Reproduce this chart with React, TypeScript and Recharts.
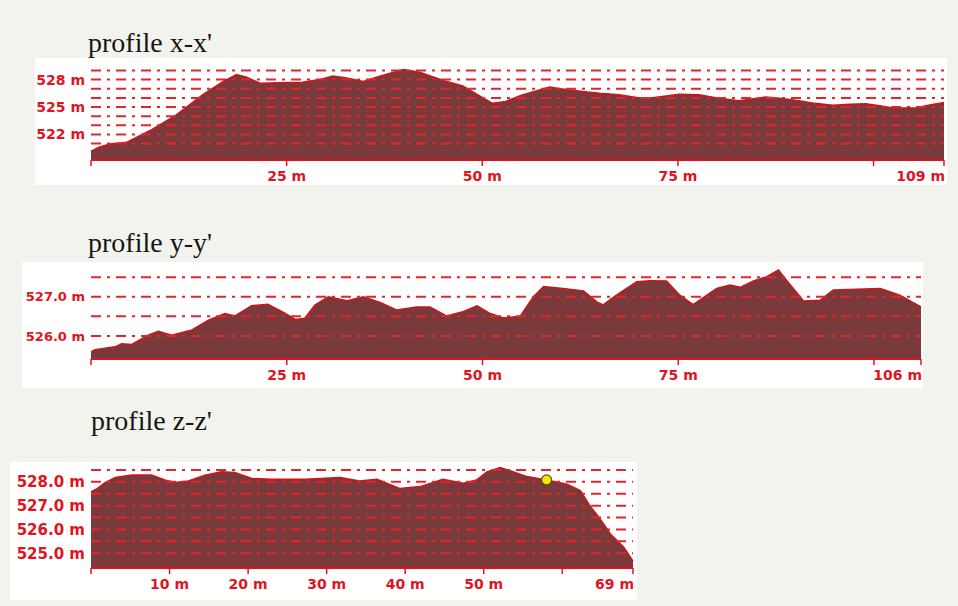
import { AreaChart, Area, XAxis, YAxis, ReferenceLine, ReferenceDot } from 'recharts'

const RED = '#e0141e'
const GRID = '#e3262c'
const FILL = '#7a3a3b'
const EDGE = '#d0141a'
const FONT = '"DejaVu Sans", Verdana, sans-serif'

// profile x-x'
const xxDist = [0, 1, 2.4, 4.6, 7.5, 10.9, 14.3, 16.9, 18.6, 19.9, 21.6, 24, 27, 29.2, 30.9, 32.5, 34.8, 37, 39.9, 42, 45, 47.5, 49.5, 51.3, 53, 55, 58.6, 60, 62.8, 65, 67.5, 70.1, 72, 75.2, 77.7, 80, 82.8, 86.2, 88, 90.5, 92.5, 94.8, 97, 99, 101, 102.4, 105.4, 107, 109]
const xxElev = [520.15, 520.6, 520.95, 521.15, 522.4, 524.15, 526.35, 527.8, 528.55, 528.25, 527.6, 527.65, 527.7, 528.0, 528.4, 528.2, 527.8, 528.4, 529.1, 528.8, 527.9, 527.3, 526.3, 525.4, 525.6, 526.3, 527.2, 527.0, 526.7, 526.5, 526.35, 526.0, 526.05, 526.4, 526.35, 526.0, 525.7, 526.1, 525.95, 525.7, 525.4, 525.2, 525.3, 525.35, 525.1, 524.9, 524.9, 525.2, 525.5]
const xxTicks = [0, 25, 50, 75, 100, 109]
const xxHidden = [0, 100]
const xxYTicks = [522, 525, 528]
const xxGrid = [521, 522, 523, 524, 525, 526, 527, 528, 529]

// profile y-y'
const yyDist = [0, 0.5, 3.1, 3.9, 5.2, 7.3, 8.6, 10.3, 12.9, 15.0, 17.1, 18.4, 20.5, 22.6, 24.4, 26.1, 27.3, 28.6, 30.3, 32.7, 34.8, 37, 39.0, 41.6, 43.3, 45.4, 47.5, 49.3, 51.0, 52.7, 54.8, 56.5, 57.8, 60.3, 62.9, 64.6, 65.4, 67.1, 69.7, 71.4, 73.5, 75.2, 76.9, 79.9, 81.6, 82.9, 84.6, 86.3, 87.8, 88.8, 91.0, 93.1, 94.8, 97.8, 100.8, 103.3, 106]
const yyElev = [525.59, 525.65, 525.72, 525.8, 525.78, 526.02, 526.12, 526.02, 526.15, 526.4, 526.57, 526.51, 526.77, 526.81, 526.62, 526.42, 526.45, 526.79, 527.0, 526.9, 527.0, 526.85, 526.66, 526.74, 526.74, 526.51, 526.62, 526.77, 526.57, 526.46, 526.5, 527.0, 527.26, 527.21, 527.15, 526.87, 526.79, 527.04, 527.38, 527.41, 527.4, 527.04, 526.8, 527.21, 527.3, 527.24, 527.4, 527.51, 527.68, 527.43, 526.89, 526.91, 527.17, 527.19, 527.21, 527.04, 526.74]
const yyTicks = [0, 25, 50, 75, 100, 106]
const yyHidden = [0, 100]
const yyYTicks = [526, 527]
const yyGrid = [526, 526.5, 527, 527.5]

// profile z-z'
const zzDist = [0, 0.7, 1.8, 3.1, 5.2, 7.7, 9.4, 10.7, 12.4, 14.5, 16.6, 18.3, 20.5, 23.0, 27.2, 29.2, 31.7, 34.2, 36.4, 39.3, 41.9, 44.8, 47.4, 49.1, 50.4, 52.1, 53.8, 55.5, 58.0, 60.6, 62.3, 63.5, 64.8, 66.1, 67.8, 69]
const zzElev = [527.58, 527.7, 527.97, 528.18, 528.29, 528.29, 528.08, 527.97, 528.04, 528.28, 528.42, 528.39, 528.14, 528.11, 528.11, 528.14, 528.18, 528.04, 528.11, 527.72, 527.8, 528.11, 527.94, 528.08, 528.42, 528.6, 528.42, 528.22, 528.08, 527.9, 527.63, 527.0, 526.45, 525.82, 525.26, 524.67]
const zzTicks = [0, 10, 20, 30, 40, 50, 60, 69]
const zzHidden = [0, 60]
const zzYTicks = [525, 526, 527, 528]
const zzGrid = [525, 525.5, 526, 526.5, 527, 527.5, 528, 528.5]
const zzMarker = { d: 58.0, e: 528.08 }

function XTick({ x, y, payload, maxX, hidden }: any) {
  if (hidden.includes(payload.value)) return <g />
  const end = payload.value === maxX
  return (
    <text
      x={end ? x + 1 : x}
      y={y}
      dy="0.71em"
      textAnchor={end ? 'end' : 'middle'}
      fill={RED}
      fontSize={14}
      fontWeight="bold"
      fontFamily={FONT}
    >
      {payload.value} m
    </text>
  )
}

function Profile(props: any) {
  const { title, titleX, titleBase, box, dist, elev, xTicks, hidden, yTicks, grid, yDomain, decimals, yWidth, top, right, xHeight, yFont, marker } = props
  const data = dist.map((d: number, i: number) => ({ d, e: elev[i] }))
  const maxX = dist[dist.length - 1]
  return (
    <>
      <div
        style={{
          position: 'absolute',
          left: titleX,
          top: titleBase - 23.4,
          fontFamily: '"Liberation Serif", "Times New Roman", serif',
          fontSize: 28,
          lineHeight: '28px',
          color: '#161616',
          whiteSpace: 'nowrap',
        }}
      >
        {title}
      </div>
      <div style={{ position: 'absolute', left: box[0], top: box[1], width: box[2], height: box[3], background: '#fff' }}>
        <AreaChart width={box[2]} height={box[3]} data={data} margin={{ top, right, left: 0, bottom: 0 }}>
          <XAxis
            dataKey="d"
            type="number"
            domain={[0, maxX]}
            ticks={xTicks}
            interval={0}
            height={xHeight}
            axisLine={{ stroke: RED, strokeWidth: 2 }}
            tickLine={{ stroke: RED, strokeWidth: 1.5 }}
            tickSize={6}
            tickMargin={5}
            tick={<XTick maxX={maxX} hidden={hidden} />}
          />
          <YAxis
            type="number"
            domain={yDomain}
            allowDataOverflow
            ticks={yTicks}
            interval={0}
            width={yWidth}
            axisLine={false}
            tickLine={false}
            tickSize={4}
            tickMargin={2}
            tickFormatter={(v: number) => `${v.toFixed(decimals)} m`}
            tick={{ fill: RED, fontSize: yFont, fontWeight: 'bold', fontFamily: FONT }}
          />
          <Area
            type="linear"
            dataKey="e"
            stroke={EDGE}
            strokeWidth={1.5}
            fill={FILL}
            fillOpacity={1}
            isAnimationActive={false}
            dot={false}
            activeDot={false}
          />
          {grid.map((g: number) => (
            <ReferenceLine key={g} y={g} stroke={GRID} strokeWidth={2} strokeDasharray="10 6 3 6" />
          ))}
          {marker && (
            <ReferenceDot x={marker.d} y={marker.e} r={5} fill="#f6e600" stroke="#55500a" strokeWidth={1.2} />
          )}
        </AreaChart>
      </div>
    </>
  )
}

export default function App() {
  return (
    <div style={{ position: 'absolute', left: 0, top: 0, width: 958, height: 606, background: '#f3f3ee', overflow: 'hidden' }}>
      <Profile
        title="profile x-x'"
        titleX={88}
        titleBase={52}
        box={[35, 58, 912, 127]}
        dist={xxDist}
        elev={xxElev}
        xTicks={xxTicks}
        hidden={xxHidden}
        yTicks={xxYTicks}
        grid={xxGrid}
        yDomain={[519.2, 529.6]}
        decimals={0}
        yWidth={56}
        top={7}
        right={3}
        xHeight={25}
        yFont={14}
      />
      <Profile
        title="profile y-y'"
        titleX={88}
        titleBase={252}
        box={[22, 262, 901, 126]}
        dist={yyDist}
        elev={yyElev}
        xTicks={yyTicks}
        hidden={yyHidden}
        yTicks={yyYTicks}
        grid={yyGrid}
        yDomain={[525.41, 527.81]}
        decimals={1}
        yWidth={69}
        top={3}
        right={2}
        xHeight={29}
        yFont={13}
      />
      <Profile
        title="profile z-z'"
        titleX={91}
        titleBase={430}
        box={[10, 462, 627, 138]}
        dist={zzDist}
        elev={zzElev}
        xTicks={zzTicks}
        hidden={zzHidden}
        yTicks={zzYTicks}
        grid={zzGrid}
        yDomain={[524.38, 528.75]}
        decimals={1}
        yWidth={81}
        top={2}
        right={4}
        xHeight={32}
        yFont={15}
        marker={zzMarker}
      />
    </div>
  )
}
